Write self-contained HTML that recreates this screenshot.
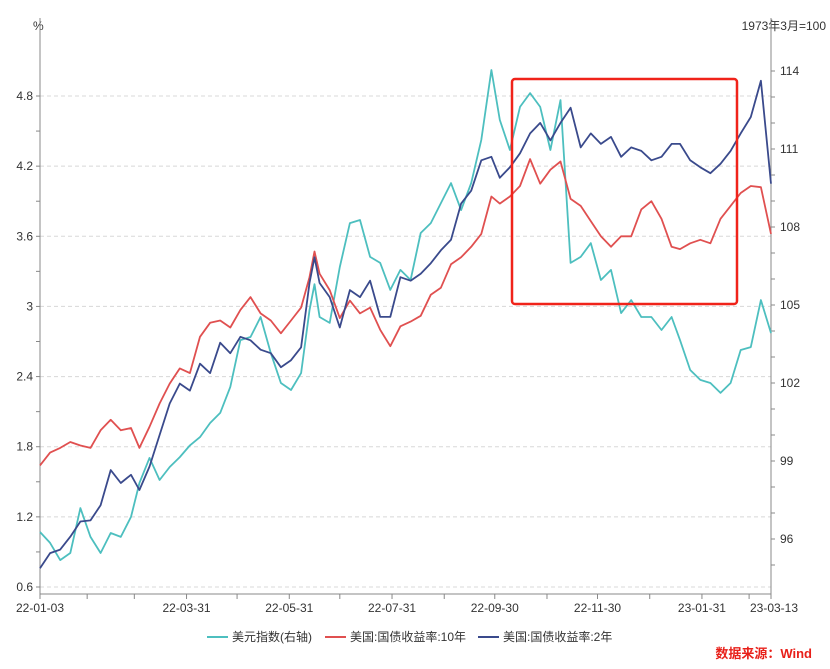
<!DOCTYPE html>
<html><head><meta charset="utf-8">
<style>
body{margin:0;background:#fff;width:830px;height:664px;overflow:hidden;font-family:"Liberation Sans","Noto Sans CJK SC",sans-serif;}
svg text{font-family:"Liberation Sans","Noto Sans CJK SC",sans-serif;}
</style></head>
<body>
<svg id="chart" width="830" height="664" xmlns="http://www.w3.org/2000/svg">
<text x="33" y="30" font-size="12" fill="#333">%</text>
<text x="826" y="30" font-size="12" fill="#333" text-anchor="end">1973年3月=100</text>
<g id="grid"></g>
<g id="axes"></g>
<g id="series"></g>
<rect x="512" y="79" width="225" height="225" rx="3" fill="none" stroke="#f0231a" stroke-width="2.5"/>
<g>
<g><line x1="207" y1="637" x2="228" y2="637" stroke="#4dbfbf" stroke-width="2"/><text x="232" y="641" font-size="12" fill="#333">美元指数(右轴)</text></g>
<g><line x1="325" y1="637" x2="346" y2="637" stroke="#e05050" stroke-width="2"/><text x="350" y="641" font-size="12" fill="#333">美国:国债收益率:10年</text></g>
<g><line x1="478" y1="637" x2="499" y2="637" stroke="#3a4a8c" stroke-width="2"/><text x="503" y="641" font-size="12" fill="#333">美国:国债收益率:2年</text></g>
</g>
<text x="812" y="658" font-size="13" font-weight="bold" fill="#e8201a" text-anchor="end">数据来源：Wind</text>
</svg>
<script>
const days=[0,6,12,18,24,30,36,42,48,54,59,65,71,77,83,89,95,101,107,113,119,125,131,137,143,149,155,160,163,166,172,178,184,190,196,202,208,214,220,226,232,238,244,250,256,262,268,273,279,285,291,297,303,309,315,321,327,333,339,345,351,357,363,369,375,380,386,392,398,404,410,416,422,428,434];
const us10y=[1.64,1.75,1.79,1.84,1.81,1.79,1.94,2.03,1.94,1.96,1.79,1.97,2.17,2.34,2.47,2.43,2.74,2.86,2.88,2.82,2.97,3.08,2.94,2.88,2.77,2.88,2.99,3.25,3.47,3.28,3.14,2.90,3.05,2.94,2.99,2.80,2.66,2.83,2.87,2.92,3.10,3.16,3.36,3.42,3.51,3.62,3.94,3.88,3.94,4.03,4.26,4.05,4.17,4.24,3.92,3.86,3.73,3.60,3.51,3.60,3.60,3.83,3.90,3.75,3.51,3.49,3.54,3.57,3.54,3.75,3.86,3.97,4.03,4.02,3.62];
const us2y=[0.76,0.89,0.92,1.03,1.16,1.17,1.30,1.60,1.49,1.56,1.43,1.63,1.90,2.17,2.34,2.28,2.51,2.43,2.69,2.60,2.74,2.71,2.63,2.60,2.48,2.54,2.65,3.20,3.42,3.20,3.08,2.82,3.14,3.08,3.22,2.91,2.91,3.25,3.22,3.28,3.37,3.48,3.57,3.88,3.99,4.25,4.28,4.10,4.19,4.31,4.48,4.57,4.42,4.57,4.70,4.36,4.48,4.39,4.45,4.28,4.36,4.33,4.25,4.28,4.39,4.39,4.25,4.19,4.14,4.22,4.33,4.48,4.62,4.93,4.05];
const usd=[96.27,95.85,95.19,95.46,97.19,96.08,95.46,96.23,96.08,96.85,98.15,99.12,98.27,98.77,99.15,99.6,99.92,100.46,100.85,101.85,103.65,103.77,104.54,103.15,102.0,101.73,102.38,104.8,105.8,104.54,104.31,106.46,108.15,108.27,106.85,106.62,105.58,106.35,105.96,107.77,108.15,108.92,109.69,108.65,109.69,111.35,114.04,112.12,110.96,112.62,113.15,112.62,110.96,112.88,106.62,106.85,107.38,105.96,106.35,104.69,105.19,104.54,104.54,104.04,104.54,103.65,102.5,102.12,102.0,101.62,102.0,103.27,103.38,105.19,103.92];
const leftTicks=["0.6","1.2","1.8","2.4","3","3.6","4.2","4.8"];
const rightTicks=["96","99","102","105","108","111","114"];
const xLabelDays=[0,87,148,209,270,331,393,434];
const xLabels=["22-01-03","22-03-31","22-05-31","22-07-31","22-09-30","22-11-30","23-01-31","23-03-13"];
const monthDays=[0,28,56,87,117,148,178,209,240,270,301,331,362,393,421,434];

const NS="http://www.w3.org/2000/svg";
const X0=40,X1=771,Y_AXIS=594;
const xS=d=>X0+(d/434)*(X1-X0);
const yL=v=>587-(v-0.6)*(491/4.2);
const yR=v=>539-(v-96)*26;
function mk(tag,attrs,parent){const e=document.createElementNS(NS,tag);for(const k in attrs)e.setAttribute(k,attrs[k]);parent.appendChild(e);return e;}
const grid=document.getElementById('grid'),axes=document.getElementById('axes'),series=document.getElementById('series');
leftTicks.forEach(t=>{const y=yL(parseFloat(t));
 const g=mk('line',{x1:X0,x2:X1,y1:y,y2:y,stroke:'#d8d8d8','stroke-dasharray':'4,3'},grid);
 
 
 const tx=mk('text',{x:33,y:y+4,'font-size':12,fill:'#333','text-anchor':'end'},axes);tx.textContent=t;
 
 
});
for(let v=0.6;v<=5.0;v+=0.3){const y=yL(v);mk('line',{x1:X0-4,x2:X0,y1:y,y2:y,stroke:'#888'},axes);}
for(let v=95;v<=114;v+=1){const y=yR(v);mk('line',{x1:X1,x2:X1+4,y1:y,y2:y,stroke:'#888'},axes);}
rightTicks.forEach(t=>{const y=yR(parseFloat(t));
 const tx=mk('text',{x:780,y:y+4,'font-size':12,fill:'#333'},axes);tx.textContent=t;
 
 
});
const la=mk('line',{x1:X0,x2:X0,y1:18,y2:Y_AXIS,stroke:'#888'},axes);


const ra=mk('line',{x1:X1,x2:X1,y1:18,y2:Y_AXIS,stroke:'#888'},axes);


const xa=mk('line',{x1:X0,x2:X1,y1:Y_AXIS,y2:Y_AXIS,stroke:'#888'},axes);


monthDays.forEach(d=>{const x=xS(d);mk('line',{x1:x,x2:x,y1:Y_AXIS,y2:Y_AXIS+5,stroke:'#888'},axes);});
xLabels.forEach((t,i)=>{const x=xS(xLabelDays[i]);
 const tx=mk('text',{x:i==xLabels.length-1?x+3:x,y:612,'font-size':12,fill:'#333','text-anchor':'middle'},axes);tx.textContent=t;
 
 
});
function line(vals,ys,color,name){
 const d=vals.map((v,i)=>(i?'L':'M')+xS(days[i]).toFixed(1)+','+ys(v).toFixed(1)).join('');
 const p=mk('path',{d:d,fill:'none',stroke:color,'stroke-width':1.8,'stroke-linejoin':'round'},series);
 
 
}
line(usd,yR,'#4dbfbf','usd-index-line');
line(us10y,yL,'#e05050','us-10y-yield-line');
line(us2y,yL,'#3a4a8c','us-2y-yield-line');
</script>
</body></html>
